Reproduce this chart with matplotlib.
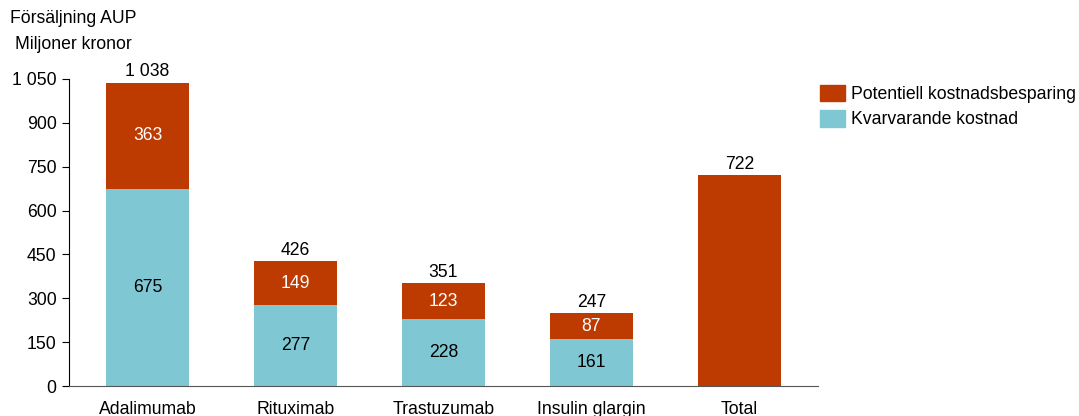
import numpy as np
import matplotlib.pyplot as plt
from matplotlib.patches import Patch

plt.rcParams['font.family'] = ['Liberation Sans', 'DejaVu Sans']

categories = ['Adalimumab', 'Rituximab', 'Trastuzumab', 'Insulin glargin', 'Total']
remaining = [675, 277, 228, 161, 0]
savings = [363, 149, 123, 87, 722]
totals = ['1 038', '426', '351', '247', '722']
yticks = [0, 150, 300, 450, 600, 750, 900, 1050]
ytick_labels = ['0', '150', '300', '450', '600', '750', '900', '1 050']

c_save = '#BD3A00'
c_rem = '#80C7D4'
fs = 12.7

fig = plt.figure(figsize=(10.79, 4.16), dpi=100)
ax = fig.add_axes([0.0640, 0.0721, 0.694, 0.738])

x = np.arange(len(categories))
w = 0.56
ax.bar(x, remaining, w, color=c_rem)
ax.bar(x, savings, w, bottom=remaining, color=c_save)

for i in range(len(categories)):
    top = remaining[i] + savings[i]
    ax.text(x[i], top + 8, totals[i], ha='center', va='bottom', fontsize=fs)
    if remaining[i] > 0:
        ax.text(x[i], remaining[i] / 2, str(remaining[i]), ha='center', va='center', fontsize=fs)
        ax.text(x[i], remaining[i] + savings[i] / 2, str(savings[i]), ha='center', va='center',
                fontsize=fs, color='white')

ax.set_xlim(-0.53, 4.53)
ax.set_ylim(0, 1050)
ax.set_yticks(yticks)
ax.set_yticklabels(ytick_labels, fontsize=fs)
ax.set_xticks(x)
ax.set_xticklabels(categories, fontsize=fs)
ax.tick_params(axis='x', length=0, pad=11)
ax.tick_params(axis='y', length=5, pad=4)
for s in ['top', 'right']:
    ax.spines[s].set_visible(False)
ax.spines['bottom'].set_color('#555555')

fig.text(0.009, 0.955, 'Försäljning AUP', fontsize=fs, ha='left', va='center')
fig.text(0.014, 0.892, 'Miljoner kronor', fontsize=fs, ha='left', va='center')

handles = [Patch(color=c_save, label='Potentiell kostnadsbesparing'),
           Patch(color=c_rem, label='Kvarvarande kostnad')]
fig.legend(handles=handles, loc='upper left', bbox_to_anchor=(0.7456, 0.835),
           frameon=False, fontsize=fs, handlelength=1.42, handleheight=1.1,
           handletextpad=0.3, labelspacing=0.4, borderpad=0.4)

fig.savefig('out.png', dpi=100)
